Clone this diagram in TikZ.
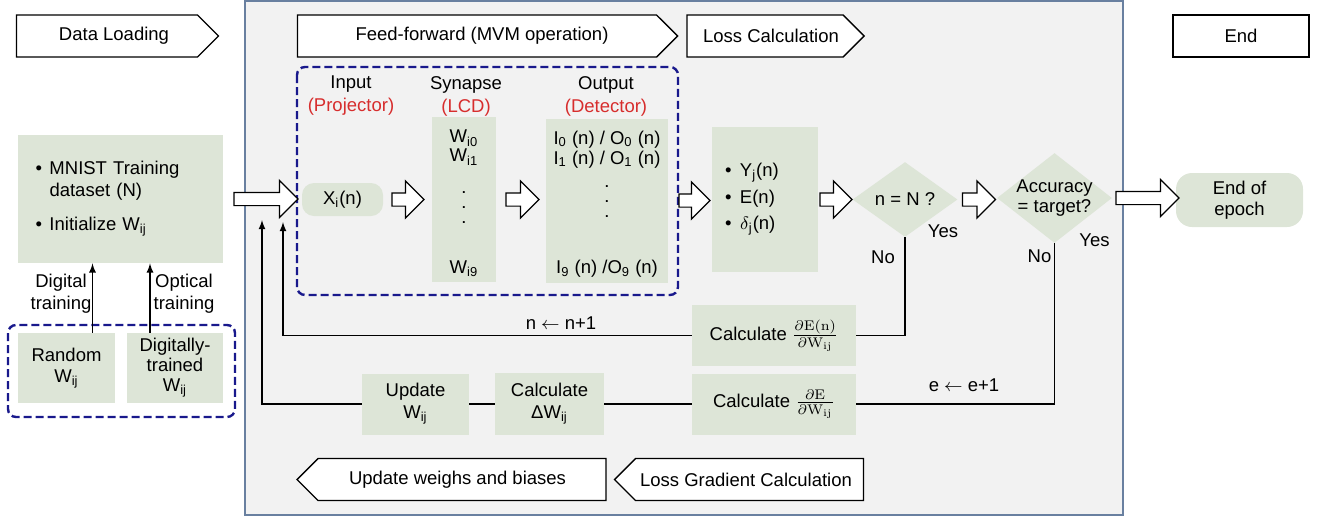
\documentclass[tikz,border=0pt]{standalone}
\usepackage[no-math]{fontspec}
\setmainfont{Liberation Sans}
\usetikzlibrary{shapes.geometric,shapes.symbols,shapes.arrows,calc}

\definecolor{sage}{HTML}{DDE5D7}
\definecolor{panelgray}{HTML}{F2F2F2}
\definecolor{panelline}{RGB}{105,128,160}
\definecolor{dashblue}{RGB}{25,25,140}
\definecolor{hwred}{RGB}{215,45,45}

\newcommand{\coldots}{\smash{\vtop{\fontsize{6.5}{7.5}\selectfont\bfseries\hbox{.}\hbox{.}\hbox{.}}}}

\tikzset{
  chev/.style={draw, fill=white, line width=0.7pt, signal, signal from=nowhere, minimum height=21pt, inner sep=0pt},
  gbox/.style={fill=sage, inner sep=0pt, align=center},
  blk/.style={single arrow, draw, fill=white, line width=0.6pt, inner xsep=0pt, inner ysep=3pt, single arrow head extend=6pt, anchor=tail},
  grp/.style={draw=dashblue, line width=1.2pt, dash pattern=on 4pt off 2pt, rounded corners=4pt},
  wire/.style={line width=0.6pt}
}

\begin{document}
\begin{tikzpicture}[x=0.5pt, y=-0.5pt, font=\fontsize{9.25}{11}\selectfont]
  \useasboundingbox (0,0) rectangle (1320,520);
  \draw[fill=panelgray, draw=panelline, line width=0.8pt] (245,1) rectangle (1123,515);

  \node[chev, signal to=east, minimum width=101pt] (DL) at (107,36) {\hspace*{7pt}Data Loading};
  \node[chev, signal to=east, minimum width=190pt] (FF) at (477,36) {\hspace*{5pt}Feed-forward (MVM operation)};
  \node[chev, signal to=east, minimum width=88.5pt] (LC) at (765,36) {\hspace*{6pt}Loss Calculation};
  \node[draw, fill=white, line width=0.7pt, minimum width=68pt, minimum height=21pt] (EN) at (1241,36) {End};
  \node[chev, signal to=west, minimum width=154.5pt] (UW) at (462,479.5) {Update weighs and biases\hspace*{4.5pt}};
  \node[chev, signal to=west, minimum width=124.5pt] (LG) at (749.5,479.5) {Loss Gradient Calculation\hspace*{3.5pt}};

  \draw[grp] (297,67) rectangle (678,295);
  \draw[grp] (8,325) rectangle (235,417);

  \node[gbox, minimum width=102.5pt, minimum height=64pt, text width=85pt, align=left] (MN) at (120.5,199)
    {\makebox[7pt][l]{\textbullet}MNIST Training\\\hspace*{7pt}dataset (N)\\[6pt]\makebox[7pt][l]{\textbullet}Initialize W\textsubscript{ij}};
  \node[gbox, minimum width=48.5pt, minimum height=35pt, font=\fontsize{9.25}{10.5}\selectfont] (RW) at (66.5,368) {Random\\W\textsubscript{ij}};
  \node[gbox, minimum width=48pt, minimum height=35pt, font=\fontsize{9.25}{10}\selectfont] (DW) at (175,368) {Digitally-\\trained\\W\textsubscript{ij}};

  \node[align=center, font=\fontsize{9.25}{11.5}\selectfont] (HIN) at (351,96) {Input\\\textcolor{hwred}{(Projector)}};
  \node[align=center, font=\fontsize{9.25}{11.5}\selectfont] (HSY) at (466,96) {Synapse\\\textcolor{hwred}{(LCD)}};
  \node[align=center, font=\fontsize{9.25}{11.5}\selectfont] (HOU) at (606,96) {Output\\\textcolor{hwred}{(Detector)}};

  \node[gbox, rounded corners=6pt, minimum width=40.5pt, minimum height=16.5pt] (XI) at (342.5,199.5) {X\textsubscript{i}(n)};
  \node[gbox, minimum width=32pt, minimum height=82.5pt, font=\fontsize{9.25}{9.5}\selectfont] (SY) at (464,199.5)
    {\rule{0pt}{10.4pt}W\textsubscript{i0}\\W\textsubscript{i1}\\[6.4pt]\coldots\\[30.5pt]W\textsubscript{i9}};
  \node[gbox, minimum width=61pt, minimum height=82pt, font=\fontsize{9.25}{10}\selectfont] (OU) at (607,200.5)
    {\rule{0pt}{10.4pt}I\textsubscript{0} (n) / O\textsubscript{0} (n)\\I\textsubscript{1} (n) / O\textsubscript{1} (n)\\[1.85pt]\coldots\\[33pt]I\textsubscript{9} (n) /O\textsubscript{9} (n)};
  \node[gbox, minimum width=53pt, minimum height=72.5pt, text width=40pt, align=left, font=\fontsize{9.25}{13.25}\selectfont] (LS) at (765,199.5)
    {\makebox[7.5pt][l]{\textbullet}Y\textsubscript{j}(n)\\\makebox[7.5pt][l]{\textbullet}E(n)\\\makebox[7.5pt][l]{\textbullet}$\delta$\textsubscript{j}(n)};
  \node[diamond, fill=sage, minimum width=52.5pt, minimum height=37.5pt, inner sep=0pt] (D1) at (905,199.5) {n = N ?};
  \node[diamond, fill=sage, minimum width=57.5pt, minimum height=45pt, inner sep=0pt,
    label={[align=center, font=\fontsize{9.25}{10}\selectfont]center:Accuracy\\= target?}] (D2) at (1054.5,198) {};
  \node[gbox, rounded corners=8pt, minimum width=63.5pt, minimum height=27pt, font=\fontsize{9.25}{10.5}\selectfont] (EE) at (1239.5,200) {End of\\epoch};

  \node[gbox, minimum width=82pt, minimum height=30.5pt] (C1) at (774,335.5)
    {Calculate {\fontsize{10}{12}\selectfont$\frac{\partial\mathrm{E(n)}}{\partial\mathrm{W_{ij}}}$}};
  \node[gbox, minimum width=82pt, minimum height=30.5pt] (C2) at (774,404)
    {Calculate {\fontsize{10}{12}\selectfont$\frac{\partial\mathrm{E}}{\partial\mathrm{W_{ij}}}$}};
  \node[gbox, minimum width=54.5pt, minimum height=31pt] (DEL) at (549.5,404) {Calculate\\ΔW\textsubscript{ij}};
  \node[gbox, minimum width=53.5pt, minimum height=30.5pt] (UP) at (415.5,404) {Update\\W\textsubscript{ij}};

  \node[blk, minimum height=32pt] (A0) at ([xshift=5pt]MN.east) {};
  \node[blk, minimum height=16pt] (A1) at ([xshift=4pt]XI.east) {};
  \node[blk, minimum height=16.5pt] (A2) at ([xshift=4.5pt]SY.east) {};
  \node[blk, minimum height=15.5pt] (A3) at ([xshift=5pt]OU.east) {};
  \node[blk, minimum height=16pt] (A4) at ([xshift=0.5pt]LS.east) {};
  \node[blk, minimum height=16.5pt] (A5) at ([xshift=2pt]D1.east) {};
  \node[blk, minimum height=31.5pt] (A6) at ([xshift=1.5pt]D2.east) {};

  \coordinate (NB) at (283,222);
  \coordinate (EB) at (262,220);
  \draw[wire] (D1.south) |- (C1.east);
  \draw[wire, -latex] (C1.west) -| (NB);
  \draw[wire] (D2.south) |- (C2.east);
  \draw[wire] (C2.west) -- (DEL.east);
  \draw[wire] (DEL.west) -- (UP.east);
  \draw[wire, -latex] (UP.west) -| (EB);
  \draw[wire, -latex] ([xshift=13pt]RW.north) -- ([xshift=13pt]RW.north |- MN.south);
  \draw[wire, -latex] ([xshift=-12.5pt]DW.north) -- ([xshift=-12.5pt]DW.north |- MN.south);

  \node[align=center] (DT) at (61,294) {Digital\\training};
  \node[align=center] (OT) at (184,294) {Optical\\training};
  \node (NI) at (561,323) {n $\leftarrow$ n+1};
  \node (EI) at (964,385) {e $\leftarrow$ e+1};
  \node (N1) at ($(D1.south)+(-22,19.5)$) {No};
  \node (Y1) at ($(D1.south)+(38,-6.5)$) {Yes};
  \node (N2) at ($(D2.south)+(-15,13)$) {No};
  \node (Y2) at ($(D2.south)+(40,-3)$) {Yes};
\end{tikzpicture}
\end{document}
